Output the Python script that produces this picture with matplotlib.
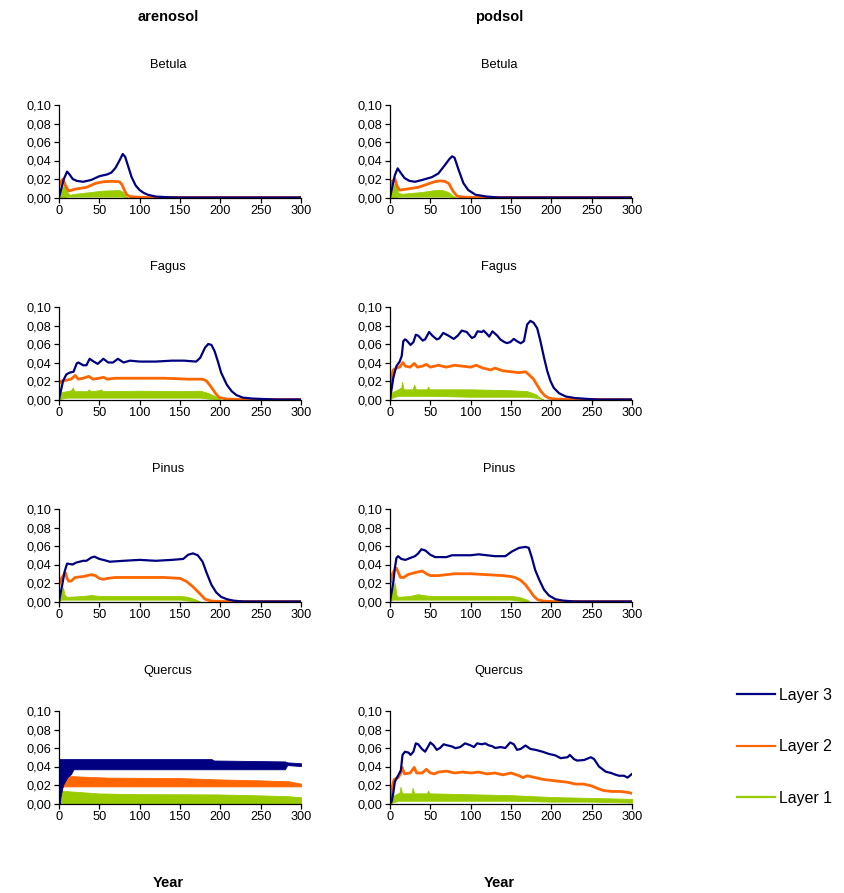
import matplotlib
matplotlib.use('Agg')
import matplotlib.pyplot as plt
from matplotlib.lines import Line2D
from matplotlib.ticker import FuncFormatter, MultipleLocator

plt.rcParams['font.family'] = ['Liberation Sans', 'DejaVu Sans']

SOILS = ['arenosol', 'podsol']
SPECIES = ['Betula', 'Fagus', 'Pinus', 'Quercus']
LAYER_LABELS = ['Layer 3', 'Layer 2', 'Layer 1']
LAYER_COLORS = ['#000080', '#FF6600', '#99CC00']

# (year, value) for Layer 3 and Layer 2, (year, low, high) for the noisy Layer 1 band
are_betula_l3 = [(0, 0), (3, 0.010), (6, 0.020), (10, 0.028), (13, 0.025), (17, 0.020),
                 (22, 0.018), (30, 0.017), (40, 0.019), (50, 0.023), (60, 0.025),
                 (65, 0.027), (70, 0.032), (75, 0.040), (79, 0.047), (82, 0.044),
                 (86, 0.033), (90, 0.022), (95, 0.013), (100, 0.008), (105, 0.005),
                 (110, 0.003), (120, 0.001), (135, 0.0003), (150, 0), (300, 0)]
are_betula_l2 = [(0, 0.013), (3, 0.018), (5, 0.020), (8, 0.013), (12, 0.007), (20, 0.009),
                 (34, 0.011), (46, 0.0155), (55, 0.017), (65, 0.0175), (75, 0.017),
                 (78, 0.014), (81, 0.008), (84, 0.003), (88, 0.001), (100, 0.0003),
                 (110, 0), (300, 0)]
are_betula_l1 = [(0, 0, 0), (4, 0, 0.010), (7, 0, 0.015), (10, 0.001, 0.006),
                 (13, 0.001, 0.003), (20, 0.001, 0.004), (40, 0.001, 0.006),
                 (55, 0.001, 0.0075), (75, 0.001, 0.008), (79, 0.001, 0.006),
                 (83, 0, 0.001), (85, 0, 0)]

pod_betula_l3 = [(0, 0), (3, 0.012), (6, 0.024), (9.5, 0.0315), (13, 0.027), (18, 0.021),
                 (24, 0.018), (31, 0.017), (40, 0.019), (52, 0.022), (60, 0.026),
                 (68, 0.035), (74, 0.042), (77, 0.0445), (80, 0.043), (85, 0.030),
                 (91, 0.0155), (97, 0.008), (106, 0.003), (120, 0.001), (135, 0), (300, 0)]
pod_betula_l2 = [(0, 0.013), (3, 0.018), (6, 0.020), (9, 0.012), (12, 0.008), (20, 0.009),
                 (35, 0.011), (45, 0.014), (55, 0.017), (62, 0.018), (68, 0.0175),
                 (73, 0.015), (78, 0.007), (83, 0.0015), (90, 0.0005), (108, 0), (300, 0)]
pod_betula_l1 = [(0, 0, 0), (4, 0, 0.012), (7, 0, 0.018), (10, 0.001, 0.005),
                 (15, 0.001, 0.004), (40, 0.001, 0.006), (55, 0.001, 0.008),
                 (65, 0.001, 0.008), (72, 0.001, 0.006), (78, 0, 0.002), (81, 0, 0)]

are_fagus_l3 = [(0, 0), (5, 0.020), (9, 0.027), (13, 0.029), (18, 0.030), (22, 0.039),
                (24, 0.040), (30, 0.037), (34, 0.037), (38, 0.044), (43, 0.041),
                (48, 0.0385), (55, 0.044), (61, 0.040), (67, 0.040), (73, 0.044),
                (80, 0.040), (88, 0.042), (100, 0.041), (120, 0.041), (140, 0.042),
                (155, 0.042), (170, 0.041), (175, 0.045), (181, 0.056), (185, 0.060),
                (189, 0.059), (193, 0.052), (197, 0.041), (201, 0.029), (208, 0.016),
                (214, 0.009), (220, 0.0047), (228, 0.002), (240, 0.001), (260, 0.0003),
                (270, 0), (300, 0)]
are_fagus_l2 = [(0, 0.017), (3, 0.020), (10, 0.021), (15, 0.022), (20, 0.026), (24, 0.022),
                (30, 0.023), (37, 0.025), (42, 0.022), (50, 0.023), (55, 0.024),
                (60, 0.022), (70, 0.023), (100, 0.023), (130, 0.023), (160, 0.022),
                (178, 0.022), (183, 0.020), (189, 0.013), (195, 0.0055), (199, 0.002),
                (208, 0.0005), (225, 0), (300, 0)]
are_fagus_l1 = [(0, 0, 0), (3, 0.001, 0.008), (10, 0.002, 0.009), (15, 0.002, 0.010),
                (17, 0.002, 0.013), (19, 0.002, 0.009), (35, 0.002, 0.009),
                (37, 0.002, 0.011), (39, 0.002, 0.009), (50, 0.002, 0.010),
                (52, 0.002, 0.011), (54, 0.002, 0.009), (100, 0.002, 0.0095),
                (150, 0.002, 0.009), (175, 0.002, 0.0095), (185, 0.001, 0.007),
                (195, 0.0005, 0.003), (200, 0, 0)]

pod_fagus_l3 = [(0, 0), (4, 0.023), (6, 0.030), (8, 0.036), (12, 0.041), (14.5, 0.047),
                (16.5, 0.063), (18.5, 0.065), (20.5, 0.064), (25.5, 0.059), (29, 0.062),
                (32, 0.070), (35, 0.069), (40.5, 0.0637), (43.5, 0.065), (48.5, 0.073),
                (52.5, 0.069), (58, 0.065), (61, 0.066), (66, 0.072), (72.5, 0.069),
                (79, 0.0655), (84, 0.069), (89, 0.0745), (95, 0.073), (101.5, 0.0665),
                (105, 0.068), (108.5, 0.0737), (114, 0.073), (116, 0.0745), (120, 0.071),
                (123, 0.068), (127, 0.0737), (133, 0.069), (137, 0.0647), (142, 0.062),
                (145, 0.061), (149, 0.062), (153.5, 0.0655), (157.5, 0.063),
                (162, 0.0608), (166, 0.063), (170, 0.081), (174, 0.085), (178, 0.083),
                (182.5, 0.077), (186.5, 0.063), (191, 0.045), (195, 0.0306),
                (199, 0.0198), (203, 0.0126), (209.5, 0.0068), (218, 0.0032),
                (230, 0.0015), (247, 0.0005), (260, 0), (300, 0)]
pod_fagus_l2 = [(0, 0), (2, 0.025), (4, 0.032), (8, 0.034), (12, 0.035), (16, 0.040),
                (19, 0.036), (25, 0.035), (30, 0.039), (34, 0.035), (40, 0.036),
                (45, 0.038), (50, 0.035), (60, 0.037), (70, 0.035), (80, 0.037),
                (90, 0.036), (100, 0.035), (107, 0.037), (115, 0.034), (125, 0.032),
                (130, 0.034), (140, 0.031), (150, 0.030), (160, 0.029), (168, 0.030),
                (172, 0.027), (178, 0.022), (182, 0.016), (187, 0.009), (192, 0.004),
                (197, 0.0015), (205, 0.0005), (220, 0), (300, 0)]
pod_fagus_l1 = [(0, 0, 0), (3, 0.002, 0.008), (10, 0.004, 0.011), (14, 0.004, 0.013),
                (15, 0.004, 0.019), (17, 0.004, 0.011), (28, 0.004, 0.011),
                (30, 0.004, 0.016), (32, 0.004, 0.011), (46, 0.004, 0.011),
                (47, 0.004, 0.014), (49, 0.004, 0.011), (100, 0.003, 0.011),
                (150, 0.003, 0.010), (170, 0.003, 0.009), (180, 0.002, 0.006),
                (186, 0.001, 0.002), (190, 0, 0)]

are_pinus_l3 = [(0, 0), (4, 0.018), (7, 0.0325), (10, 0.041), (17, 0.040), (21, 0.042),
                (30, 0.044), (34, 0.044), (40, 0.0475), (44, 0.0485), (50, 0.046),
                (57, 0.0445), (63, 0.043), (80, 0.044), (100, 0.045), (120, 0.044),
                (140, 0.045), (154, 0.046), (160, 0.0505), (166, 0.052), (172, 0.050),
                (178, 0.043), (183, 0.031), (189, 0.018), (195, 0.0097), (201, 0.005),
                (208, 0.0025), (216, 0.001), (224, 0.0003), (230, 0), (300, 0)]
are_pinus_l2 = [(0, 0.018), (3, 0.025), (6, 0.029), (8, 0.031), (10, 0.025), (12, 0.022),
                (15, 0.022), (20, 0.026), (30, 0.027), (40, 0.029), (45, 0.028),
                (50, 0.025), (55, 0.024), (60, 0.025), (70, 0.026), (100, 0.026),
                (130, 0.026), (150, 0.025), (158, 0.0217), (166, 0.016), (174, 0.009),
                (181, 0.0025), (189, 0.0005), (200, 0), (300, 0)]
are_pinus_l1 = [(0, 0, 0), (3, 0.002, 0.010), (5, 0.002, 0.015), (7, 0.002, 0.007),
                (10, 0.002, 0.005), (30, 0.002, 0.006), (40, 0.002, 0.007),
                (50, 0.002, 0.006), (100, 0.002, 0.006), (150, 0.002, 0.006),
                (160, 0.001, 0.005), (170, 0.0005, 0.002), (175, 0, 0)]

pod_pinus_l3 = [(0, 0), (4, 0.020), (6, 0.036), (8, 0.047), (10, 0.049), (14, 0.046),
                (19, 0.045), (25, 0.047), (31, 0.049), (35, 0.052), (39, 0.0565),
                (44, 0.055), (50, 0.0505), (56, 0.048), (70, 0.048), (77, 0.050),
                (90, 0.050), (100, 0.050), (110, 0.051), (120, 0.050), (130, 0.049),
                (143, 0.049), (151, 0.054), (160, 0.058), (168, 0.059), (172, 0.058),
                (176, 0.047), (180, 0.034), (185, 0.0235), (191, 0.0126), (197, 0.0065),
                (205, 0.0025), (214, 0.001), (226, 0.0002), (235, 0), (300, 0)]
pod_pinus_l2 = [(0, 0.018), (2, 0.028), (5, 0.033), (8, 0.036), (11, 0.030), (13, 0.026),
                (17, 0.026), (22, 0.029), (30, 0.031), (35, 0.032), (40, 0.033),
                (45, 0.030), (50, 0.028), (60, 0.028), (70, 0.029), (80, 0.030),
                (100, 0.030), (120, 0.029), (140, 0.028), (150, 0.027), (155, 0.026),
                (162, 0.023), (168, 0.018), (174, 0.011), (178, 0.006), (183, 0.002),
                (190, 0.0005), (200, 0), (300, 0)]
pod_pinus_l1 = [(0, 0, 0), (3, 0.002, 0.012), (6, 0.002, 0.020), (8, 0.002, 0.007),
                (10, 0.002, 0.005), (25, 0.002, 0.006), (35, 0.002, 0.008),
                (40, 0.002, 0.007), (50, 0.002, 0.006), (100, 0.002, 0.006),
                (150, 0.002, 0.006), (160, 0.001, 0.005), (170, 0.0005, 0.002),
                (173, 0, 0)]

# arenosol Quercus oscillates so fast that every layer shows up as a band (year, low, high)
are_quercus_l3 = [(0, 0, 0.045), (1, 0.0, 0.048), (2, 0.008, 0.048), (5, 0.020, 0.048),
                  (10, 0.028, 0.048), (15, 0.032, 0.048), (18, 0.037, 0.048),
                  (189, 0.037, 0.048), (192, 0.037, 0.0465), (280, 0.037, 0.0455),
                  (283, 0.0415, 0.0445), (300, 0.0405, 0.0435)]
are_quercus_l2 = [(4, 0.018, 0.020), (7, 0.0185, 0.0235), (10, 0.0185, 0.027),
                  (14, 0.0185, 0.0297), (30, 0.0185, 0.029), (60, 0.0185, 0.028),
                  (150, 0.0185, 0.0275), (200, 0.0185, 0.026), (250, 0.0185, 0.025),
                  (285, 0.0185, 0.024), (300, 0.0185, 0.0215)]
are_quercus_l1 = [(0, 0, 0), (2, 0, 0.0137), (8, 0, 0.0135), (49, 0, 0.0109),
                  (98, 0, 0.0101), (150, 0, 0.0100), (197, 0, 0.0098), (250, 0, 0.0088),
                  (284, 0, 0.0079), (300, 0, 0.0068)]

pod_quercus_l3 = [(0, 0), (2, 0.002), (4, 0.011), (6, 0.0235), (10.5, 0.031), (13.5, 0.036),
                  (15.5, 0.0525), (18.5, 0.056), (23, 0.055), (25.5, 0.0525), (29, 0.056),
                  (32, 0.065), (35, 0.064), (39.5, 0.059), (43.5, 0.056), (47.5, 0.062),
                  (50, 0.066), (54, 0.063), (58, 0.058), (62, 0.060), (66.5, 0.064),
                  (70.5, 0.063), (77, 0.0616), (81, 0.0598), (87, 0.061), (93, 0.065),
                  (99.5, 0.063), (104, 0.061), (108, 0.065), (114, 0.064), (118, 0.065),
                  (122, 0.063), (126.5, 0.062), (130.5, 0.060), (137, 0.061),
                  (143, 0.060), (149, 0.066), (153.5, 0.064), (157.5, 0.058),
                  (162, 0.059), (168, 0.0627), (174, 0.059), (180.5, 0.058),
                  (189, 0.056), (197, 0.0536), (205, 0.052), (211.5, 0.049),
                  (220, 0.050), (223, 0.0525), (228, 0.048), (232, 0.0464),
                  (240.5, 0.047), (249, 0.050), (253, 0.048), (259, 0.040),
                  (267.5, 0.0344), (274, 0.033), (280, 0.031), (284, 0.030),
                  (290, 0.030), (294.5, 0.028), (300, 0.032)]
pod_quercus_l2 = [(0, 0.002), (2, 0.015), (5, 0.026), (10, 0.028), (13, 0.032), (15, 0.039),
                  (18, 0.032), (25, 0.033), (30, 0.039), (33, 0.033), (40, 0.033),
                  (45, 0.037), (50, 0.033), (55, 0.032), (60, 0.034), (70, 0.035),
                  (80, 0.033), (90, 0.034), (100, 0.033), (110, 0.034), (120, 0.032),
                  (130, 0.033), (140, 0.031), (150, 0.033), (160, 0.030), (165, 0.028),
                  (170, 0.030), (180, 0.028), (190, 0.026), (200, 0.025), (210, 0.024),
                  (220, 0.023), (230, 0.021), (240, 0.021), (250, 0.019), (258, 0.016),
                  (265, 0.014), (275, 0.013), (285, 0.013), (295, 0.012), (300, 0.011)]
pod_quercus_l1 = [(0, 0, 0), (3, 0.001, 0.008), (10, 0.003, 0.011), (12, 0.003, 0.012),
                  (13, 0.003, 0.018), (15, 0.003, 0.011), (27, 0.003, 0.011),
                  (28, 0.003, 0.017), (30, 0.003, 0.011), (46, 0.003, 0.011),
                  (47, 0.003, 0.014), (49, 0.003, 0.011), (100, 0.003, 0.010),
                  (150, 0.003, 0.009), (200, 0.002, 0.007), (250, 0.002, 0.006),
                  (300, 0.001, 0.005)]

PANELS = {
    ('arenosol', 'Betula'): (are_betula_l3, are_betula_l2, are_betula_l1),
    ('podsol', 'Betula'): (pod_betula_l3, pod_betula_l2, pod_betula_l1),
    ('arenosol', 'Fagus'): (are_fagus_l3, are_fagus_l2, are_fagus_l1),
    ('podsol', 'Fagus'): (pod_fagus_l3, pod_fagus_l2, pod_fagus_l1),
    ('arenosol', 'Pinus'): (are_pinus_l3, are_pinus_l2, are_pinus_l1),
    ('podsol', 'Pinus'): (pod_pinus_l3, pod_pinus_l2, pod_pinus_l1),
    ('arenosol', 'Quercus'): (are_quercus_l3, are_quercus_l2, are_quercus_l1),
    ('podsol', 'Quercus'): (pod_quercus_l3, pod_quercus_l2, pod_quercus_l1),
}


def draw_series(ax, data, color, lw):
    cols = list(zip(*data))
    if len(cols) == 3:
        ax.fill_between(cols[0], cols[1], cols[2], color=color, lw=0.6,
                        edgecolor=color)
    else:
        ax.plot(cols[0], cols[1], color=color, lw=lw, solid_joinstyle='round')


def style_axes(ax):
    ax.set_xlim(0, 300)
    ax.set_ylim(0, 0.10)
    ax.xaxis.set_major_locator(MultipleLocator(50))
    ax.yaxis.set_major_locator(MultipleLocator(0.02))
    ax.yaxis.set_major_formatter(
        FuncFormatter(lambda v, p: f'{v:.2f}'.replace('.', ',')))
    for side in ('top', 'right'):
        ax.spines[side].set_visible(False)
    for side in ('left', 'bottom'):
        ax.spines[side].set_linewidth(0.9)
    ax.tick_params(direction='out', length=3.5, width=0.9, labelsize=9.2,
                   pad=2)
    ax.margins(0)


def main():
    W, H = 845, 893
    fig = plt.figure(figsize=(W / 100, H / 100), dpi=100)

    lefts = [59, 390]
    tops = [105, 307, 509, 711]
    aw, ah = 242, 92.5

    for r, sp in enumerate(SPECIES):
        for c, soil in enumerate(SOILS):
            ax = fig.add_axes([lefts[c] / W, 1 - (tops[r] + ah) / H, aw / W, ah / H])
            l3, l2, l1 = PANELS[(soil, sp)]
            draw_series(ax, l1, LAYER_COLORS[2], 1.2)
            draw_series(ax, l2, LAYER_COLORS[1], 2.0)
            draw_series(ax, l3, LAYER_COLORS[0], 1.6)
            style_axes(ax)
            ax.text(0.45, 1.433, sp, transform=ax.transAxes, ha='center',
                    va='center', fontsize=9.3)

    for soil, x in zip(SOILS, [168, 499]):
        fig.text(x / W, 1 - 17 / H, soil, ha='center', va='center',
                 fontsize=10.5, fontweight='bold')
        fig.text(x / W, 1 - 883 / H, 'Year', ha='center', va='center',
                 fontsize=10.5, fontweight='bold')

    handles = [Line2D([], [], color=col, lw=1.6) for col in LAYER_COLORS]
    fig.legend(handles, LAYER_LABELS, loc='upper left',
               bbox_to_anchor=(737 / W, 1 - 688 / H), frameon=False,
               fontsize=11.4, handlelength=2.4, handletextpad=0.25,
               labelspacing=2.3, borderpad=0, borderaxespad=0)

    fig.savefig('out.png', dpi=100)


if __name__ == '__main__':
    main()
